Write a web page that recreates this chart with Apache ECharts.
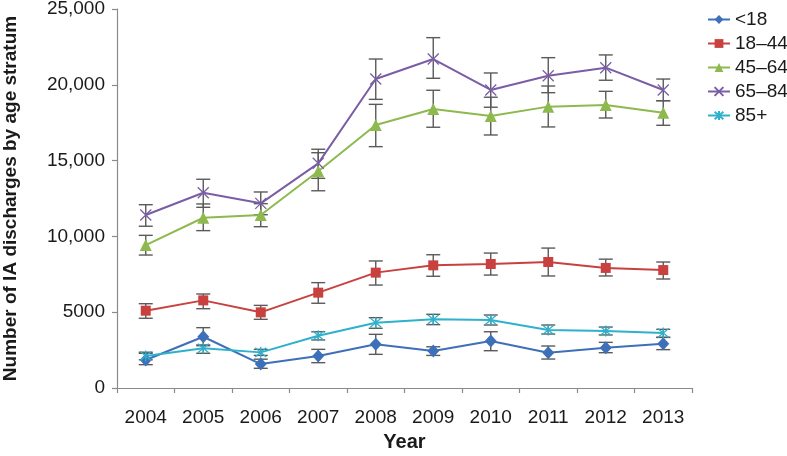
<!DOCTYPE html>
<html>
<head>
<meta charset="utf-8">
<script src="https://cdn.jsdelivr.net/npm/echarts@6/dist/echarts.min.js"></script>
<style>html,body{margin:0;padding:0;background:#fff}#c{width:787px;height:456px}</style>
</head>
<body>
<div id="c"></div>
<script>
var years = ['2004','2005','2006','2007','2008','2009','2010','2011','2012','2013'];
var seriesNames = ['<18','18\u201344','45\u201364','65\u201384','85+'];

var under18     = [1850, 3380, 1580, 2110, 2880, 2440, 3100, 2330, 2660, 2920];
var under18Lo   = [1540, 2790, 1300, 1670, 2220, 2150, 2460, 1910, 2330, 2530];
var under18Hi   = [2290, 3980, 1900, 2550, 3540, 2720, 3710, 2770, 3010, 3340];

var age18_44    = [5100, 5780, 4990, 6290, 7610, 8090, 8180, 8310, 7920, 7780];
var age18_44Lo  = [4600, 5230, 4530, 5590, 6790, 7370, 7450, 7390, 7390, 7190];
var age18_44Hi  = [5560, 6200, 5450, 6950, 8380, 8790, 8900, 9230, 8500, 8310];

var age45_64    = [9430, 11230, 11410, 14300, 17350, 18400, 17940, 18560, 18670, 18160];
var age45_64Lo  = [8770, 10380, 10640, 13010, 15920, 17200, 16690, 17220, 17810, 17330];
var age45_64Hi  = [10070, 12140, 12160, 15520, 18710, 19640, 19180, 19920, 19570, 18950];

var age65_84    = [11410, 12880, 12180, 14820, 20380, 21700, 19660, 20600, 21130, 19660];
var age65_84Lo  = [10670, 11920, 11430, 13830, 19040, 20430, 18520, 19480, 20300, 18950];
var age65_84Hi  = [12090, 13770, 12930, 15750, 21700, 23110, 20780, 21790, 21970, 20380];

var age85plus   = [2110, 2620, 2350, 3450, 4310, 4530, 4490, 3830, 3760, 3630];
var age85plusLo = [1860, 2290, 2150, 3170, 3940, 4180, 4155, 3560, 3500, 3340];
var age85plusHi = [2360, 2840, 2550, 3710, 4640, 4860, 4815, 4155, 4020, 3870];

var yTickValues = [0, 5000, 10000, 15000, 20000, 25000];
var yTickLabels = ['0', '5000', '10,000', '15,000', '20,000', '25,000'];

var colors = ['#3E70BA', '#C8413F', '#8DB94E', '#7A5DA5', '#2EB1CD'];
var symbols = [
  'diamond',
  'rect',
  'triangle',
  'path://M0,0L10,10M10,0L0,10',
  'path://M0,0L10,10M10,0L0,10M5,-1L5,11'
];
var symbolSizes = [[12, 13], 10, 12, 11, 11];

var vals = [under18, age18_44, age45_64, age65_84, age85plus];
var los = [under18Lo, age18_44Lo, age45_64Lo, age65_84Lo, age85plusLo];
var his = [under18Hi, age18_44Hi, age45_64Hi, age65_84Hi, age85plusHi];

var series = [];
for (var s = 0; s < 5; s++) {
  var ebData = [];
  for (var i = 0; i < years.length; i++) ebData.push([i, los[s][i], his[s][i]]);
  series.push({
    type: 'custom',
    z: 1,
    silent: true,
    data: ebData,
    renderItem: function (params, api) {
      var x = api.value(0);
      var pLo = api.coord([x, api.value(1)]);
      var pHi = api.coord([x, api.value(2)]);
      var w = 7;
      var st = { stroke: '#5a5a5a', lineWidth: 1.4 };
      return {
        type: 'group',
        children: [
          { type: 'line', shape: { x1: pLo[0], y1: pLo[1], x2: pHi[0], y2: pHi[1] }, style: st },
          { type: 'line', shape: { x1: pLo[0] - w, y1: pLo[1], x2: pLo[0] + w, y2: pLo[1] }, style: st },
          { type: 'line', shape: { x1: pHi[0] - w, y1: pHi[1], x2: pHi[0] + w, y2: pHi[1] }, style: st }
        ]
      };
    }
  });
}
for (var s2 = 0; s2 < 5; s2++) {
  var isPath = s2 >= 3;
  series.push({
    name: seriesNames[s2],
    type: 'line',
    z: 3,
    data: vals[s2],
    symbol: symbols[s2],
    symbolSize: symbolSizes[s2],
    showAllSymbol: true,
    lineStyle: { color: colors[s2], width: 2 },
    itemStyle: isPath ? { color: colors[s2], borderColor: colors[s2], borderWidth: 1.3 } : { color: colors[s2], borderWidth: 0 },
    emphasis: { disabled: true },
    animation: false
  });
}

var chart = echarts.init(document.getElementById('c'), null, { renderer: 'canvas' });
chart.setOption({
  animation: false,
  color: colors,
  grid: { left: 117, right: 95, top: 9, bottom: 68, containLabel: false, outerBoundsMode: 'none' },
  legend: {
    data: seriesNames,
    orient: 'vertical',
    left: 702,
    top: 5,
    itemWidth: 22,
    itemHeight: 11,
    itemGap: 5,
    textStyle: { fontFamily: 'Liberation Sans', fontSize: 19, color: '#1a1a1a' }
  },
  xAxis: {
    type: 'category',
    data: years,
    boundaryGap: true,
    name: 'Year',
    nameLocation: 'middle',
    nameGap: 44,
    nameTextStyle: { fontFamily: 'Liberation Sans', fontSize: 20, fontWeight: 'bold', color: '#1a1a1a' },
    axisLine: { lineStyle: { color: '#8a8a8a', width: 1.2 } },
    axisTick: { show: true, length: 5, lineStyle: { color: '#8a8a8a', width: 1.2 } },
    axisLabel: { margin: 20, fontFamily: 'Liberation Sans', fontSize: 19, color: '#1a1a1a' },
    splitLine: { show: false }
  },
  yAxis: {
    type: 'value',
    min: 0,
    max: 25000,
    interval: 5000,
    name: 'Number of IA discharges by age stratum',
    nameLocation: 'middle',
    nameGap: 97,
    nameTextStyle: { fontFamily: 'Liberation Sans', fontSize: 19, fontWeight: 'bold', color: '#1a1a1a' },
    axisLine: { show: true, lineStyle: { color: '#8a8a8a', width: 1.2 } },
    axisTick: { show: true, length: 5, lineStyle: { color: '#8a8a8a', width: 1.2 } },
    axisLabel: {
      margin: 12,
      fontFamily: 'Liberation Sans',
      fontSize: 19,
      color: '#1a1a1a',
      formatter: function (v) {
        var idx = yTickValues.indexOf(v);
        return idx >= 0 ? yTickLabels[idx] : String(v);
      }
    },
    splitLine: { show: false }
  },
  series: series
});
</script>
</body>
</html>
